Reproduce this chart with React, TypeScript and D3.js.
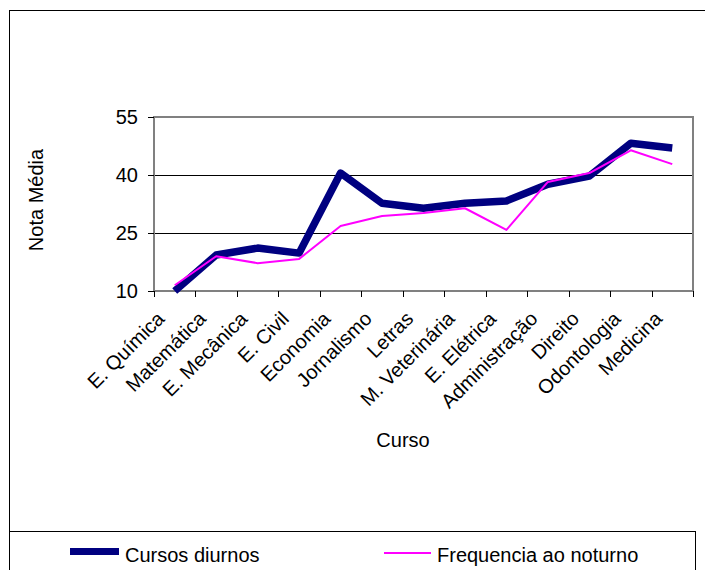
import React from "react";
import * as d3 from "d3";

const cursos = [
  "E. Química",
  "Matemática",
  "E. Mecânica",
  "E. Civil",
  "Economia",
  "Jornalismo",
  "Letras",
  "M. Veterinária",
  "E. Elétrica",
  "Administração",
  "Direito",
  "Odontologia",
  "Medicina",
];
const diurnos = [10, 19.3, 21.1, 19.8, 40.5, 32.7, 31.4, 32.7, 33.3, 37.6, 39.7, 48.2, 47];
const noturno = [11.5, 19, 17.2, 18.3, 26.8, 29.4, 30.2, 31.4, 25.8, 38.2, 40.5, 46.4, 42.8];
const yTicks = [10, 25, 40, 55];

const W = 705;
const H = 570;
const plot = { left: 154, top: 117, right: 693, bottom: 291 };
const font = "'Liberation Sans', Arial, sans-serif";
const fs = 20;

export default function App() {
  const x = d3
    .scaleBand<string>()
    .domain(cursos)
    .range([plot.left, plot.right]);
  const y = d3.scaleLinear().domain([10, 55]).range([plot.bottom, plot.top]);
  const cx = (c: string) => (x(c) ?? 0) + x.bandwidth() / 2;
  // snap thin lines to the pixel grid
  const snap = (v: number) => Math.round(v) + 0.5;

  const line = d3
    .line<number>()
    .x((_, i) => cx(cursos[i]))
    .y((d) => y(d));

  const tickXs = cursos.map((c) => x(c) ?? 0).concat([plot.right]);

  return (
    <svg
      width={W}
      height={H}
      style={{ position: "absolute", left: 0, top: 0, background: "#fff" }}
      fontFamily={font}
    >
      {/* outer frame */}
      <rect x={9.5} y={10.5} width={720} height={600} fill="#fff" stroke="#000" strokeWidth={1} />

      {/* grid lines */}
      {yTicks
        .filter((t) => t > 10 && t < 55)
        .map((t) => (
          <line key={t} x1={plot.left} x2={plot.right} y1={snap(y(t))} y2={snap(y(t))} stroke="#000" strokeWidth={1} />
        ))}

      {/* plot border */}
      <rect
        x={plot.left}
        y={plot.top}
        width={plot.right - plot.left}
        height={plot.bottom - plot.top}
        fill="none"
        stroke="#808080"
        strokeWidth={2}
      />

      {/* y ticks */}
      {yTicks.map((t) => (
        <g key={t}>
          <line x1={plot.left - 6} x2={plot.left} y1={snap(y(t))} y2={snap(y(t))} stroke="#000" strokeWidth={1} />
          <text x={138} y={y(t) + 7} textAnchor="end" fontSize={fs}>
            {t}
          </text>
        </g>
      ))}

      {/* x ticks */}
      {tickXs.map((tx, i) => (
        <line key={i} x1={snap(tx)} x2={snap(tx)} y1={plot.bottom} y2={plot.bottom + 6} stroke="#000" strokeWidth={1} />
      ))}

      {/* series */}
      <path d={line(diurnos) ?? ""} fill="none" stroke="#000080" strokeWidth={7.5} strokeLinejoin="round" />
      <path d={line(noturno) ?? ""} fill="none" stroke="#FF00FF" strokeWidth={2} strokeLinejoin="round" />

      {/* x labels */}
      {cursos.map((c) => {
        const px = cx(c) - 9;
        const py = 320;
        return (
          <text
            key={c}
            x={px}
            y={py}
            textAnchor="end"
            fontSize={fs}
            transform={`rotate(-45 ${px} ${py})`}
          >
            {c}
          </text>
        );
      })}

      {/* axis titles */}
      <text x={403} y={447} textAnchor="middle" fontSize={fs}>
        Curso
      </text>
      <text
        x={0}
        y={0}
        textAnchor="middle"
        fontSize={fs}
        transform={`translate(43 200) rotate(-90)`}
      >
        Nota Média
      </text>

      {/* legend */}
      <rect x={9.5} y={531.5} width={686} height={80} fill="#fff" stroke="#000" strokeWidth={1} />
      <line x1={70} x2={119} y1={551.5} y2={551.5} stroke="#000080" strokeWidth={7} />
      <text x={125} y={562} fontSize={fs}>
        Cursos diurnos
      </text>
      <line x1={384} x2={431} y1={553} y2={553} stroke="#FF00FF" strokeWidth={2} />
      <text x={437} y={562} fontSize={fs}>
        Frequencia ao noturno
      </text>
    </svg>
  );
}
